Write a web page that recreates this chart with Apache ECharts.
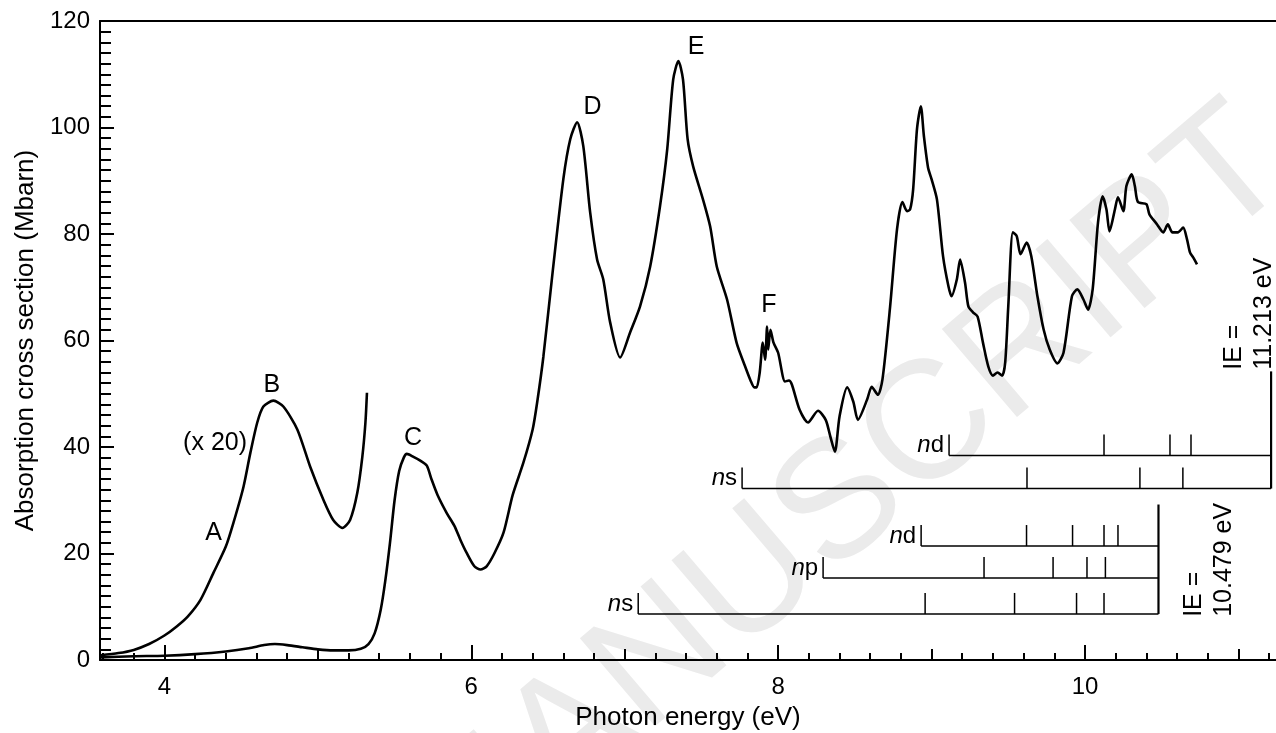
<!DOCTYPE html>
<html>
<head>
<meta charset="utf-8">
<script src="https://cdn.jsdelivr.net/npm/echarts@6/dist/echarts.min.js"></script>
<style>
  html, body { margin: 0; padding: 0; background: #fff; }
  #chart { width: 1276px; height: 733px; }
</style>
</head>
<body>
<div id="chart"></div>
<script>
// absorption spectrum, photon energy (eV) / cross section (Mbarn)
const energy = [3.583, 3.8, 4.0, 4.2, 4.4, 4.55, 4.65, 4.72, 4.8, 4.9, 5.0, 5.1, 5.2, 5.28, 5.33, 5.37, 5.41, 5.44, 5.47, 5.5,
  5.53, 5.56, 5.58, 5.62, 5.67, 5.71, 5.74, 5.78, 5.84, 5.89, 5.93, 5.97, 6.02, 6.06, 6.1, 6.15, 6.21, 6.27, 6.34, 6.4,
  6.43, 6.47, 6.53, 6.6, 6.645, 6.69, 6.73, 6.775, 6.82, 6.86, 6.905, 6.97, 7.035, 7.1, 7.166, 7.23, 7.277, 7.316, 7.35, 7.38,
  7.41, 7.446, 7.51, 7.557, 7.6, 7.667, 7.73, 7.78, 7.82, 7.845, 7.86, 7.88, 7.9, 7.915, 7.928, 7.935, 7.95, 7.97, 8.0, 8.045,
  8.07, 8.09, 8.14, 8.195, 8.26, 8.31, 8.34, 8.37, 8.4, 8.45, 8.49, 8.52, 8.58, 8.61, 8.65, 8.68, 8.73, 8.775, 8.81, 8.84,
  8.86, 8.88, 8.905, 8.93, 8.95, 8.977, 9.0, 9.035, 9.075, 9.11, 9.13, 9.165, 9.186, 9.218, 9.24, 9.27, 9.3, 9.335, 9.37, 9.4,
  9.43, 9.46, 9.48, 9.5, 9.53, 9.555, 9.58, 9.62, 9.65, 9.69, 9.73, 9.77, 9.82, 9.86, 9.915, 9.95, 9.99, 10.02, 10.05, 10.085,
  10.115, 10.14, 10.16, 10.195, 10.215, 10.25, 10.27, 10.305, 10.325, 10.345, 10.4, 10.42, 10.47, 10.51, 10.54, 10.57, 10.605, 10.64, 10.665, 10.685,
  10.705, 10.73];
const crossSection = [0.5, 0.7, 0.8, 1.1, 1.6, 2.2, 2.8, 3.0, 2.8, 2.4, 2.0, 1.8, 1.8, 2.1, 3.0, 5.0, 9.5, 15, 22, 30,
  35.5, 38, 38.7, 38.2, 37.4, 36.5, 34, 31, 27.6, 25.2, 22.5, 20.1, 17.6, 17, 17.6, 20, 23.9, 31, 37.1, 43.3,
  48.5, 57, 72.8, 90.3, 97.8, 101, 96.5, 84, 75.2, 71.5, 63.4, 56.8, 61.5, 66.4, 73.9, 85.2, 95.9, 109, 112.5, 109,
  97.8, 92.7, 86.5, 81.4, 73.9, 67.7, 59.5, 55.5, 52.5, 51.2, 51.2, 54, 59.6, 56.4, 62.6, 58.3, 62, 59.6, 57.7, 52.3,
  52.5, 51.7, 47, 44.6, 46.8, 45.1, 42, 39.1, 45.7, 51.2, 48.5, 45.1, 48.9, 51.3, 49.8, 52.7, 66.4, 80.9, 86, 84.3,
  84.6, 88.4, 99.7, 104, 98.4, 92.5, 90.3, 86.5, 75.8, 70.2, 68.3, 71.5, 75.2, 70.9, 66.4, 65.3, 64.5, 59.6, 55.1, 53.4,
  54, 53.4, 55.9, 66.4, 80.3, 79.6, 76.2, 78.4, 75.8, 68.3, 62.1, 58.3, 55.7, 57.7, 68.3, 69.6, 67.7, 65.8, 69.6, 82.2,
  87.1, 84.6, 80.5, 84.6, 86.9, 84.3, 89, 91.2, 89, 86, 85.6, 83.7, 81.8, 80.3, 81.8, 80.3, 80.3, 81.2, 79, 76.5,
  75.6, 74.3];

// weak A / B bands, magnified x 20
const energyX20 = [3.583, 3.7, 3.8, 3.9, 4.0, 4.08, 4.15, 4.235, 4.32, 4.4, 4.45, 4.515, 4.56, 4.605, 4.645, 4.71, 4.775, 4.866, 4.95, 5.036,
  5.1, 5.16, 5.21, 5.257, 5.29, 5.31, 5.32];
const crossSectionX20 = [0.9, 1.3, 1.9, 3.0, 4.6, 6.3, 8.1, 11.3, 16.4, 21.3, 25.8, 32.5, 38.9, 44.6, 47.6, 48.7, 47.6, 43.3, 36.3, 30.1,
  26.3, 24.8, 26.3, 31.4, 38.2, 44.6, 50.2];

// Rydberg series (eV), first value is the start of each bracket
const ndHigh = [9.114, 10.124, 10.554, 10.691];
const nsHigh = [7.765, 9.622, 10.358, 10.638];
const ndLow = [8.932, 9.619, 9.919, 10.124, 10.215];
const npLow = [8.293, 9.342, 9.792, 10.013, 10.133];
const nsLow = [7.088, 8.958, 9.541, 9.945, 10.124];
const ionEnergies = [11.213, 10.479];

const peakNames = ['A', 'B', '(x 20)', 'C', 'D', 'E', 'F'];
const peakX = [4.32, 4.70, 4.33, 5.62, 6.79, 7.466, 7.94];
const peakY = [23.9, 51.7, 40.8, 41.7, 103.8, 115.1, 66.6];

// layout: heights (Mbarn units) at which brackets sit
const rows = [
  { l: 'd', e: ndHigh, ie: 0, y: 38.4 },
  { l: 's', e: nsHigh, ie: 0, y: 32.2 },
  { l: 'd', e: ndLow, ie: 1, y: 21.4 },
  { l: 'p', e: npLow, ie: 1, y: 15.4 },
  { l: 's', e: nsLow, ie: 1, y: 8.65 }
];
const ieSpan = [[32.2, 54.2], [8.65, 29.2]];
const ieText = [{ y: 54.5, dx: -22 }, { y: 8.1, dx: 51 }];

const font = '"Liberation Sans", Arial, Helvetica, sans-serif';
const xMin = 3.58, xMax = 11.245;
const gridBox = { left: 100, right: 0, top: 21, bottom: 73, outerBoundsMode: 'none', containLabel: false };

const evenTicks = [4, 6, 8, 10];
const oddTicks = [5, 7, 9, 11];
const minorTicks = [];
for (let i = 18; i <= 56; i++) {
  if (i % 5 !== 0) minorTicks.push(i / 5);
}

function tickAxis(grid, ticks, len) {
  return {
    type: 'value', gridIndex: grid, min: xMin, max: xMax, position: 'bottom',
    axisLine: { show: false },
    axisTick: { show: true, inside: true, length: len, customValues: ticks, lineStyle: { color: '#000', width: 2 } },
    axisLabel: { show: false },
    splitLine: { show: false }
  };
}
function hiddenY(grid) {
  return { type: 'value', gridIndex: grid, min: 0, max: 120, show: false };
}

function rowSeries(row) {
  return {
    type: 'custom', xAxisIndex: 0, yAxisIndex: 0, silent: true, clip: false, z: 3,
    data: [[row.e[0], row.y]],
    renderItem: function (params, api) {
      const start = api.coord([row.e[0], row.y]);
      const end = api.coord([ionEnergies[row.ie], row.y]);
      const st = { stroke: '#000', lineWidth: 1.5 };
      const kids = [{ type: 'line', shape: { x1: start[0], y1: start[1], x2: end[0], y2: end[1] }, style: st }];
      row.e.forEach(function (v) {
        const p = api.coord([v, row.y]);
        kids.push({ type: 'line', shape: { x1: p[0], y1: p[1], x2: p[0], y2: p[1] - 21 }, style: st });
      });
      kids.push({
        type: 'text', x: start[0] - 5, y: start[1] - 10,
        style: {
          text: '{i|n}{r|' + row.l + '}', align: 'right', verticalAlign: 'middle',
          rich: {
            i: { fontFamily: font, fontSize: 24, fontStyle: 'italic', fill: '#000' },
            r: { fontFamily: font, fontSize: 24, fill: '#000' }
          }
        }
      });
      return { type: 'group', children: kids };
    }
  };
}

const chart = echarts.init(document.getElementById('chart'), null, { renderer: 'canvas' });

const series = [
  {
    type: 'line', xAxisIndex: 0, yAxisIndex: 0, showSymbol: false, smooth: 0.25, z: 4,
    lineStyle: { color: '#000', width: 2.6 },
    data: energy.map((e, i) => [e, crossSection[i]])
  },
  {
    type: 'line', xAxisIndex: 0, yAxisIndex: 0, showSymbol: false, smooth: 0.25, z: 4,
    lineStyle: { color: '#000', width: 2.6 },
    data: energyX20.map((e, i) => [e, crossSectionX20[i]])
  }
];
ionEnergies.forEach(function (ie, i) {
  series.push({
    type: 'line', xAxisIndex: 0, yAxisIndex: 0, showSymbol: false, z: 3,
    lineStyle: { color: '#000', width: 2.2 },
    data: [[ie, ieSpan[i][0]], [ie, ieSpan[i][1]]]
  });
});
rows.forEach(r => series.push(rowSeries(r)));
series.push({
  type: 'custom', xAxisIndex: 0, yAxisIndex: 0, silent: true, clip: false, z: 5,
  data: peakX.map((x, i) => [x, peakY[i]]),
  renderItem: function (params, api) {
    const p = api.coord([api.value(0), api.value(1)]);
    return {
      type: 'text', x: p[0], y: p[1],
      style: { text: peakNames[params.dataIndex], font: '25px ' + font, fill: '#000', align: 'center', verticalAlign: 'middle' }
    };
  }
});
series.push({
  type: 'custom', xAxisIndex: 0, yAxisIndex: 0, silent: true, clip: false, z: 5,
  data: ionEnergies.map((ie, i) => [ie, ieText[i].y]),
  renderItem: function (params, api) {
    const i = params.dataIndex;
    const p = api.coord([api.value(0), api.value(1)]);
    return {
      type: 'text', x: p[0] + ieText[i].dx, y: p[1], rotation: Math.PI / 2,
      style: {
        text: 'IE =\n' + ionEnergies[i].toFixed(3) + ' eV', font: '25px ' + font, fill: '#000',
        lineHeight: 30, align: 'left', verticalAlign: 'middle'
      }
    };
  }
});

chart.setOption({
  animation: false,
  backgroundColor: '#fff',
  grid: [Object.assign({}, gridBox), Object.assign({}, gridBox), Object.assign({}, gridBox)],
  graphic: [{
    type: 'text', x: 845, y: 503, rotation: 0.707, z: -10, silent: true,
    style: { text: 'MANUSCRIPT', font: '168px ' + font, fill: '#ebebeb', align: 'center', verticalAlign: 'middle' }
  }],
  xAxis: [
    {
      type: 'value', gridIndex: 0, min: xMin, max: xMax, position: 'bottom',
      name: 'Photon energy (eV)', nameLocation: 'middle', nameGap: 45,
      nameTextStyle: { fontFamily: font, fontSize: 26, color: '#000' },
      axisLine: { lineStyle: { color: '#000', width: 2 } },
      axisTick: { show: true, inside: true, length: 15, customValues: evenTicks, lineStyle: { color: '#000', width: 2 } },
      axisLabel: { customValues: evenTicks, fontFamily: font, fontSize: 24, color: '#000', margin: 15 },
      splitLine: { show: false }
    },
    {
      type: 'value', gridIndex: 0, min: xMin, max: xMax, position: 'top',
      axisLine: { lineStyle: { color: '#000', width: 2 } },
      axisTick: { show: false }, axisLabel: { show: false }, splitLine: { show: false }
    },
    tickAxis(1, oddTicks, 11),
    tickAxis(2, minorTicks, 7)
  ],
  yAxis: [
    {
      type: 'value', gridIndex: 0, min: 0, max: 120, interval: 20,
      name: 'Absorption cross section (Mbarn)', nameLocation: 'middle', nameGap: 60,
      nameTextStyle: { fontFamily: font, fontSize: 26, color: '#000' },
      axisLine: { show: true, lineStyle: { color: '#000', width: 2 } },
      axisTick: { show: true, inside: true, length: 14, lineStyle: { color: '#000', width: 2 } },
      minorTick: { show: true, splitNumber: 10, length: 11, lineStyle: { color: '#000', width: 2 } },
      axisLabel: { fontFamily: font, fontSize: 24, color: '#000', margin: 10 },
      splitLine: { show: false }
    },
    hiddenY(1),
    hiddenY(2)
  ],
  series: series
});
</script>
</body>
</html>
